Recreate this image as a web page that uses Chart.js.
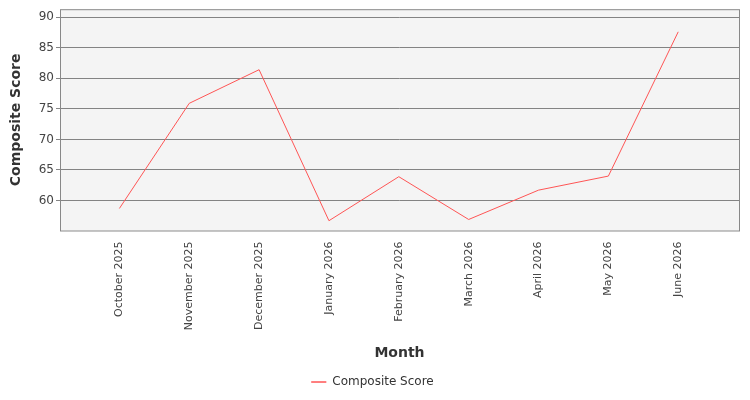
<!DOCTYPE html>
<html>
<head>
<script src="https://cdn.jsdelivr.net/npm/chart.js@4"></script>
<style>body{margin:0;background:#fff}#wrap{width:750px;height:400px}</style>
</head>
<body>
<div id="wrap"><canvas id="chart"></canvas></div>
<script>
const months = ['October 2025', 'November 2025', 'December 2025', 'January 2026', 'February 2026', 'March 2026', 'April 2026', 'May 2026', 'June 2026'];
const scores = [58.7, 75.9, 81.4, 56.7, 63.9, 56.9, 61.7, 64.0, 87.6];
const yTicks = [60, 65, 70, 75, 80, 85, 90];

// grey plot background + frame
const plotBg = {
  id: 'plotBg',
  beforeDraw(chart) {
    const {ctx, chartArea: a} = chart;
    ctx.save();
    ctx.fillStyle = '#f4f4f4';
    ctx.fillRect(a.left, a.top, a.right - a.left, a.bottom - a.top);
    ctx.restore();
  },
  afterDraw(chart) {
    const {ctx, chartArea: a} = chart;
    ctx.save();
    ctx.strokeStyle = '#888';
    ctx.lineWidth = 1;
    ctx.strokeRect(a.left + 0.5, a.top + 0.5, a.right - a.left, a.bottom - a.top);
    ctx.restore();
  }
};

new Chart(document.getElementById('chart'), {
  type: 'line',
  data: {
    datasets: [{
      label: 'Composite Score',
      data: scores.map((v, i) => ({x: i, y: v})),
      borderColor: '#ff5555',
      backgroundColor: '#ff5555',
      borderWidth: 1,
      pointRadius: 0,
      tension: 0
    }]
  },
  options: {
    responsive: true,
    maintainAspectRatio: false,
    animation: false,
    layout: {padding: {top: 7, right: 11, left: 6, bottom: 2}},
    plugins: {
      legend: {
        position: 'bottom',
        labels: {
          font: {family: 'DejaVu Sans', size: 12}, color: '#333',
          boxWidth: 15, boxHeight: 0, padding: 6,
          generateLabels: c => [{text: 'Composite Score', strokeStyle: '#ff5555', fillStyle: '#ff5555', lineWidth: 1, fontColor: '#333'}]
        }
      },
      tooltip: {enabled: false}
    },
    scales: {
      x: {
        type: 'linear', min: -0.85, max: 8.87,
        afterBuildTicks: s => { s.ticks = months.map((m, i) => ({value: i})); },
        grid: {display: false},
        border: {display: false},
        ticks: {
          autoSkip: false, maxRotation: 90, minRotation: 90,
          callback: v => months[v],
          font: {family: 'DejaVu Sans', size: 11}, color: '#444'
        },
        title: {display: true, text: 'Month', font: {family: 'DejaVu Sans', size: 14, weight: '600'}, color: '#333', padding: {top: 12, bottom: 8}}
      },
      y: {
        min: 55.1, max: 91.3,
        afterBuildTicks: s => { s.ticks = yTicks.map(v => ({value: v})); },
        afterFit: s => { s.width = 54; },
        grid: {color: '#666', lineWidth: 0.8, drawTicks: true, tickLength: 4},
        border: {display: false},
        ticks: {font: {family: 'DejaVu Sans', size: 12}, color: '#444', padding: 2},
        title: {display: true, text: 'Composite Score', font: {family: 'DejaVu Sans', size: 14, weight: '600'}, color: '#333', padding: 2}
      }
    }
  },
  plugins: [plotBg]
});
</script>
</body>
</html>
